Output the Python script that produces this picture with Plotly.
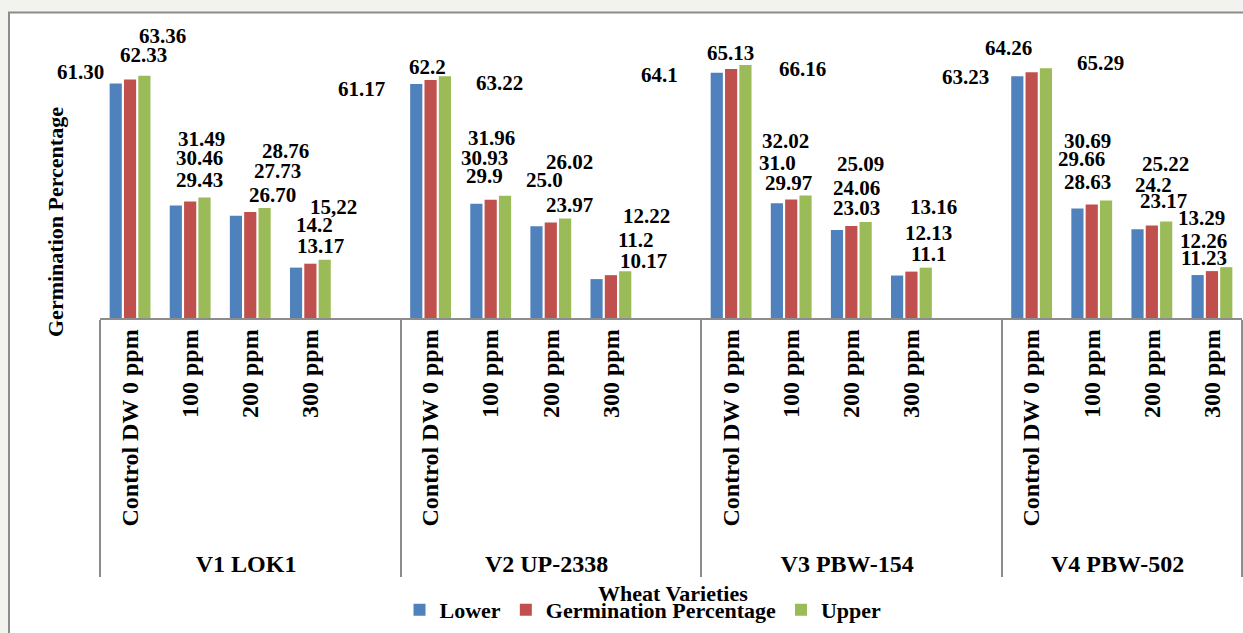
import plotly.graph_objects as go

# ---------------- data ----------------
varieties = ["V1 LOK1", "V2 UP-2338", "V3 PBW-154", "V4 PBW-502"]
treatments = ["Control DW 0 ppm", "100 ppm", "200 ppm", "300 ppm"]

lower = [[61.30, 29.43, 26.70, 13.17],
         [61.17, 29.9, 23.97, 10.17],
         [64.1, 29.97, 23.03, 11.1],
         [63.23, 28.63, 23.17, 11.23]]
germination = [[62.33, 30.46, 27.73, 14.2],
               [62.2, 30.93, 25.0, 11.2],
               [65.13, 31.0, 24.06, 12.13],
               [64.26, 29.66, 24.2, 12.26]]
upper = [[63.36, 31.49, 28.76, 15.22],
         [63.22, 31.96, 26.02, 12.22],
         [66.16, 32.02, 25.09, 13.16],
         [65.29, 30.69, 25.22, 13.29]]

lower_text = [["61.30", "29.43", "26.70", "13.17"],
              ["61.17", "29.9", "23.97", "10.17"],
              ["64.1", "29.97", "23.03", "11.1"],
              ["63.23", "28.63", "23.17", "11.23"]]
germination_text = [["62.33", "30.46", "27.73", "14.2"],
                    ["62.2", "30.93", "25.0", "11.2"],
                    ["65.13", "31.0", "24.06", "12.13"],
                    ["64.26", "29.66", "24.2", "12.26"]]
upper_text = [["63.36", "31.49", "28.76", "15,22"],
              ["63.22", "31.96", "26.02", "12.22"],
              ["66.16", "32.02", "25.09", "13.16"],
              ["65.29", "30.69", "25.22", "13.29"]]

series_names = ["Lower", "Germination Percentage", "Upper"]
x_title = "Wheat Varieties"
y_title = "Germination Percentage"

# ---------------- label placement (pixel offsets from bar top / cluster centre) ----------------
lower_off = [[(-50, 12), (9, 25), (22, 21), (10, 22)],
             [(-69, -5), (-6, 28), (19, 21), (33, 18)],
             [(-72, -2), (-3, 20), (5, 22), (18, 22)],
             [(-66, -1), (-4, 26), (12, 28), (-8, 17)]]
germ_off = [[(13, 25), (9, 43), (27, 41), (4, 39)],
            [(-3, 13), (-6, 42), (-6, 42), (25, 35)],
            [(-1, 16), (-14, 36), (5, 38), (17, 39)],
            [(-23, 24), (-10, 46), (2, 40), (-8, 30)]]
upper_off = [[(32, 40), (11, 59), (35, 57), (23, 53)],
             [(69, -7), (1, 58), (19, 56), (36, 55)],
             [(71, -4), (-6, 55), (9, 58), (22, 61)],
             [(69, 5), (-4, 60), (14, 58), (-10, 49)]]

colors = ["#4F81BD", "#C0504D", "#9BBB59"]
FONT = "Liberation Serif"

# ---------------- build multicategory x ----------------
grp, cat, slot_of = [], [], {}
for i, v in enumerate(varieties):
    for j, t in enumerate(treatments):
        slot_of[(i, j)] = len(grp)
        grp.append(v)
        cat.append(t)
    if i < len(varieties) - 1:
        grp.append(v)
        cat.append(" " * (i + 1))
n_slots = len(grp)


def flat(vals):
    out = []
    for i in range(len(varieties)):
        out.extend(vals[i])
        if i < len(varieties) - 1:
            out.append(None)
    return out


fig = go.Figure()
for name, vals, col in zip(series_names, [lower, germination, upper], colors):
    fig.add_trace(go.Bar(x=[grp, cat], y=flat(vals), name=name,
                         marker=dict(color=col, line=dict(width=0))))

annotations = []
for vals, texts, offs in [(lower, lower_text, lower_off),
                          (germination, germination_text, germ_off),
                          (upper, upper_text, upper_off)]:
    for i in range(len(varieties)):
        for j in range(len(treatments)):
            dx, dy = offs[i][j]
            annotations.append(dict(x=slot_of[(i, j)], y=vals[i][j], xref="x", yref="y",
                                    text=texts[i][j], showarrow=False,
                                    xanchor="center", yanchor="middle",
                                    xshift=dx, yshift=dy,
                                    font=dict(family=FONT, size=21, color="black",
                                              weight="bold")))

W, H = 1243, 633
ML, MR, MT, MB = 100, 1, 12, 315
PW, PH = W - ML - MR, H - MT - MB


def px_x(p):
    return (p - ML) / PW


def px_y(p):
    return (H - MB - p) / PH


annotations.append(dict(x=px_x(673), y=px_y(593), xref="paper", yref="paper",
                        text=x_title, showarrow=False,
                        xanchor="center", yanchor="middle",
                        font=dict(family=FONT, size=22, color="black", weight="bold")))
annotations.append(dict(x=px_x(55), y=px_y(222), xref="paper", yref="paper",
                        text=y_title, showarrow=False, textangle=-90,
                        xanchor="center", yanchor="middle",
                        font=dict(family=FONT, size=22, color="black", weight="bold")))

fig.update_layout(
    width=W, height=H,
    margin=dict(l=ML, r=MR, t=MT, b=MB),
    paper_bgcolor="#f2f2ee",
    plot_bgcolor="rgba(0,0,0,0)",
    barmode="group", bargap=0.285, bargroupgap=0.15,
    showlegend=True,
    legend=dict(orientation="h", x=px_x(643), y=px_y(610), xanchor="center", yanchor="middle",
                bgcolor="rgba(0,0,0,0)",
                font=dict(family=FONT, size=22, color="black", weight="bold")),
    annotations=annotations,
    shapes=[dict(type="rect", xref="paper", yref="paper", layer="below",
                 x0=px_x(9), x1=px_x(1252), y0=px_y(645), y1=px_y(12.5),
                 fillcolor="white", line=dict(color="#8c8c8c", width=2))],
    font=dict(family=FONT, color="black"),
)
fig.update_xaxes(type="multicategory", range=[-0.5, n_slots - 0.5], autorange=False,
                 showline=True, linecolor="#8c8c8c", linewidth=1.5,
                 ticks="", tickangle=-90, showgrid=False, zeroline=False,
                 showdividers=True, dividercolor="#8c8c8c", dividerwidth=1.5,
                 tickfont=dict(family=FONT, size=24, color="black", weight="bold"))
fig.update_yaxes(visible=False, range=[0, 80], showgrid=False, zeroline=False)

fig.write_html("out.html",
               config={"displayModeBar": False},
               post_script="document.body.style.margin='0';"
                           "document.body.style.background='#f2f2ee';")
